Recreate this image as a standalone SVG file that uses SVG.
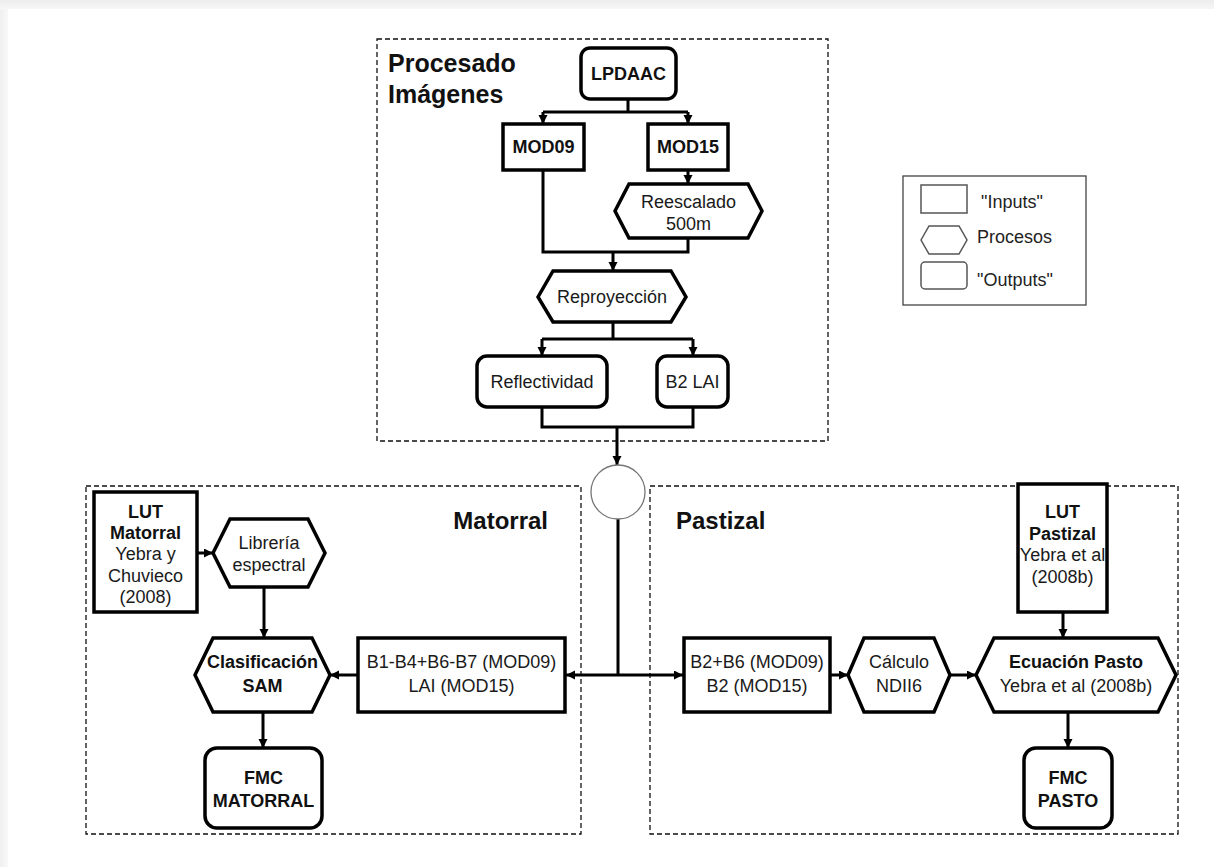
<svg xmlns="http://www.w3.org/2000/svg" width="1214" height="867" viewBox="0 0 1214 867">
<defs>
<linearGradient id="gTop" x1="0" y1="0" x2="0" y2="1"><stop offset="0" stop-color="#ececec"/><stop offset="1" stop-color="#f7f7f7"/></linearGradient>
<linearGradient id="gLeft" x1="0" y1="0" x2="1" y2="0"><stop offset="0" stop-color="#f0f0f0"/><stop offset="1" stop-color="#f8f8f8"/></linearGradient>
<marker id="ah" markerWidth="10" markerHeight="10" refX="9" refY="4.5" orient="auto" markerUnits="userSpaceOnUse"><path d="M0,0 L9,4.5 L0,9 z" fill="#000"/></marker>
<style>
.t{font-family:"Liberation Sans",Arial,sans-serif;font-size:18px;fill:#1a1a1a;text-anchor:middle}
.ts{font-family:"Liberation Sans",Arial,sans-serif;font-size:18px;fill:#222;text-anchor:start}
.b{font-weight:bold;fill:#111}
.n{fill:#fff;stroke:#000;stroke-width:3.5;stroke-linejoin:miter}
.grp{fill:none;stroke:#111;stroke-width:1.3;stroke-dasharray:5 3}
.c{fill:none;stroke:#000;stroke-width:3}
.ca{fill:none;stroke:#000;stroke-width:3;marker-end:url(#ah)}
.lg{fill:#fff;stroke:#555;stroke-width:1.5}
.title{font-family:"Liberation Sans",Arial,sans-serif;font-weight:bold;fill:#111}
</style>
</defs>
<rect width="1214" height="867" fill="#fff"/>
<rect x="0" y="0" width="1214" height="9" fill="url(#gTop)"/>
<rect x="0" y="9" width="8" height="858" fill="url(#gLeft)"/>

<g id="groups">
<rect class="grp" x="377" y="39" width="451" height="402"/>
<rect class="grp" x="86" y="486" width="495" height="348"/>
<rect class="grp" x="650" y="486" width="528" height="348"/>
<text class="title" x="388" y="72" font-size="25">Procesado</text>
<text class="title" x="388" y="103" font-size="25">Imágenes</text>
<text class="title" x="548" y="529" font-size="24" text-anchor="end">Matorral</text>
<text class="title" x="676" y="529" font-size="24">Pastizal</text>
</g>

<g id="connectors">
<path class="c" d="M628,99 V112 M543,112 H688"/>
<path class="ca" d="M543,112 V124"/>
<path class="ca" d="M688,112 V124"/>
<path class="ca" d="M688,170 V184"/>
<path class="c" d="M543,170 V252 H688 V238"/>
<path class="ca" d="M613,252 V271"/>
<path class="c" d="M613,322 V339 M542,339 H693"/>
<path class="ca" d="M542,339 V356"/>
<path class="ca" d="M693,339 V356"/>
<path class="c" d="M542,407 V427 H693 V407"/>
<path class="ca" d="M617,427 V465"/>
<path class="c" d="M618,519 V675"/>
<path class="ca" d="M618,675 H566"/>
<path class="ca" d="M618,675 H683"/>
<path class="ca" d="M197,553 H213"/>
<path class="ca" d="M264,587 V638"/>
<path class="ca" d="M358,675 H330"/>
<path class="ca" d="M263,712 V748"/>
<path class="ca" d="M1063,612 V638"/>
<path class="ca" d="M830,675 H848"/>
<path class="ca" d="M950,675 H976"/>
<path class="ca" d="M1068,712 V748"/>
</g>

<g id="lpdaac"><rect class="n" x="581" y="48" width="95" height="51" rx="9"/><text class="t b" x="628.5" y="80" font-size="17">LPDAAC</text></g>
<g id="mod09"><rect class="n" x="503" y="124" width="81" height="46"/><text class="t b" x="543.5" y="153" font-size="17">MOD09</text></g>
<g id="mod15"><rect class="n" x="648" y="124" width="80" height="46"/><text class="t b" x="688" y="153" font-size="17">MOD15</text></g>
<g id="reescalado"><polygon class="n" points="615,211 629,184 748,184 762,211 748,238 629,238"/><text class="t" x="688.5" y="208">Reescalado</text><text class="t" x="688.5" y="230">500m</text></g>
<g id="reproyeccion"><polygon class="n" points="538,297 553,271 671,271 686,297 671,322 553,322"/><text class="t" x="612" y="303">Reproyección</text></g>
<g id="reflectividad"><rect class="n" x="477" y="356" width="130" height="51" rx="10"/><text class="t" x="542" y="388">Reflectividad</text></g>
<g id="b2lai"><rect class="n" x="657" y="356" width="71" height="51" rx="10"/><text class="t" x="692.5" y="388">B2 LAI</text></g>
<g id="merge"><circle cx="618" cy="492" r="27" fill="#fff" stroke="#777" stroke-width="1.3"/></g>

<g id="lut-matorral"><rect class="n" x="94" y="492" width="103" height="120"/>
<text class="t b" x="145.5" y="518">LUT</text><text class="t b" x="145.5" y="539">Matorral</text>
<text class="t" x="145.5" y="560">Yebra y</text><text class="t" x="145.5" y="582">Chuvieco</text><text class="t" x="145.5" y="603">(2008)</text></g>
<g id="libreria"><polygon class="n" points="213,553 230,519 308,519 325,553 308,587 230,587"/><text class="t" x="269" y="549">Librería</text><text class="t" x="269" y="571">espectral</text></g>
<g id="clasificacion"><polygon class="n" points="195,675 213,638 312,638 330,675 312,712 213,712"/><text class="t b" x="262.5" y="668">Clasificación</text><text class="t b" x="262.5" y="692">SAM</text></g>
<g id="b1b4"><rect class="n" x="358" y="638" width="207" height="74"/><text class="t" x="461.5" y="668">B1-B4+B6-B7 (MOD09)</text><text class="t" x="461.5" y="692">LAI (MOD15)</text></g>
<g id="fmc-matorral"><rect class="n" x="205" y="748" width="117" height="80" rx="12"/><text class="t b" x="263.5" y="784">FMC</text><text class="t b" x="263.5" y="807">MATORRAL</text></g>

<g id="lut-pastizal"><rect class="n" x="1018" y="484" width="89" height="128"/>
<text class="t b" x="1062.5" y="518">LUT</text><text class="t b" x="1062.5" y="540">Pastizal</text>
<text class="t" x="1062.5" y="561">Yebra et al</text><text class="t" x="1062.5" y="583">(2008b)</text></g>
<g id="b2b6"><rect class="n" x="684" y="638" width="146" height="74"/><text class="t" x="757" y="668">B2+B6 (MOD09)</text><text class="t" x="757" y="692">B2 (MOD15)</text></g>
<g id="calculo"><polygon class="n" points="848,675 864,638 934,638 950,675 934,712 864,712"/><text class="t" x="899" y="668">Cálculo</text><text class="t" x="899" y="692">NDII6</text></g>
<g id="ecuacion"><polygon class="n" points="976,675 994,638 1158,638 1176,675 1158,712 994,712"/><text class="t b" x="1076" y="668">Ecuación Pasto</text><text class="t" x="1076" y="692">Yebra et al (2008b)</text></g>
<g id="fmc-pasto"><rect class="n" x="1024" y="748" width="88" height="80" rx="12"/><text class="t b" x="1068" y="784">FMC</text><text class="t b" x="1068" y="807">PASTO</text></g>

<g id="legend">
<rect x="903" y="176" width="183" height="129" fill="#fff" stroke="#444" stroke-width="1.3"/>
<rect class="lg" x="921" y="185" width="46" height="28"/>
<text class="ts" x="981" y="208">"Inputs"</text>
<polygon class="lg" points="921,240 929,226 959,226 967,240 959,254 929,254"/>
<text class="ts" x="977" y="243">Procesos</text>
<rect class="lg" x="921" y="262" width="46" height="27" rx="4"/>
<text class="ts" x="977" y="286">"Outputs"</text>
</g>
</svg>
